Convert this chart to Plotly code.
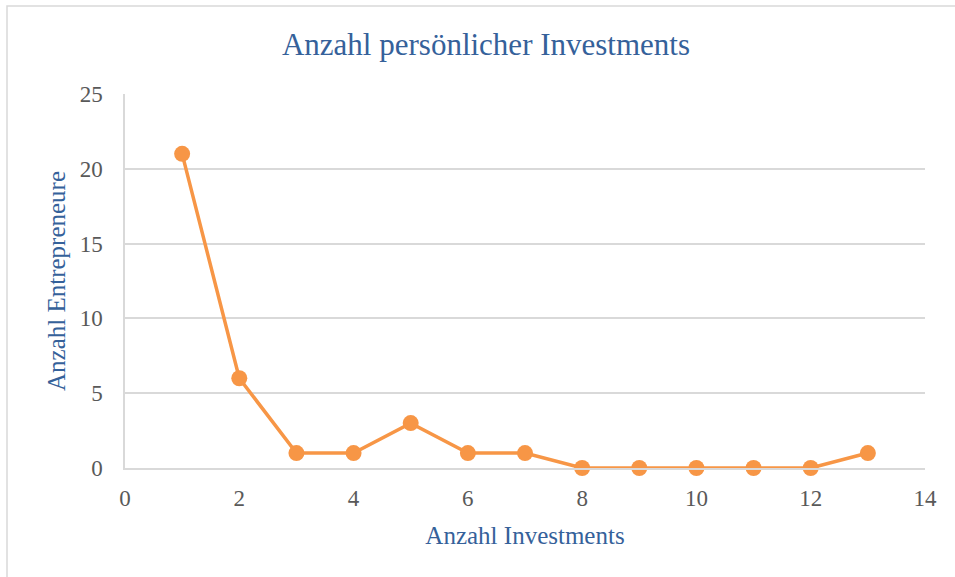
import plotly.graph_objects as go

investments = [1, 2, 3, 4, 5, 6, 7, 8, 9, 10, 11, 12, 13]
entrepreneurs = [21, 6, 1, 1, 3, 1, 1, 0, 0, 0, 0, 0, 1]
x_ticks = [0, 2, 4, 6, 8, 10, 12, 14]
y_ticks = [0, 5, 10, 15, 20, 25]

title_text = "Anzahl persönlicher Investments"
x_title = "Anzahl Investments"
y_title = "Anzahl Entrepreneure"

FONT = "Liberation Serif"
BLUE = "#35619A"
GRAY_TXT = "#595959"
GRID = "#D9D9D9"
ORANGE = "#F79646"

fig = go.Figure()
fig.add_trace(go.Scatter(
    x=investments, y=entrepreneurs, mode="lines+markers",
    line=dict(color=ORANGE, width=3.5),
    marker=dict(color=ORANGE, size=16),
    cliponaxis=False, showlegend=False, hoverinfo="skip",
))

fig.update_layout(
    width=955, height=577,
    margin=dict(l=125, r=30, t=94, b=109),
    paper_bgcolor="white", plot_bgcolor="white",
    title=dict(text=title_text, x=(486) / 955, xanchor="center",
               y=1 - 44 / 577, yanchor="middle",
               font=dict(family=FONT, size=31, color=BLUE)),
    xaxis=dict(range=[0, 14], tickvals=x_ticks, showgrid=False,
               showline=True, linecolor=GRID, linewidth=1.5,
               zeroline=False, ticks="", ticklabelstandoff=9,
               tickfont=dict(family=FONT, size=23, color=GRAY_TXT),
               title=dict(text=x_title, standoff=16,
                          font=dict(family=FONT, size=25, color=BLUE))),
    yaxis=dict(range=[0, 25], tickvals=y_ticks, showgrid=True,
               gridcolor=GRID, gridwidth=1.5,
               showline=True, linecolor=GRID, linewidth=1.5,
               zeroline=False, ticks="", ticklabelstandoff=16,
               tickfont=dict(family=FONT, size=23, color=GRAY_TXT),
               title=dict(text=y_title, standoff=7,
                          font=dict(family=FONT, size=25, color=BLUE))),
)

# chart frame
fig.add_shape(type="rect", xref="paper", yref="paper",
              x0=(7 - 125) / 800, x1=(965 - 125) / 800,
              y0=(468 - 590) / 374, y1=(468 - 6) / 374,
              line=dict(color=GRID, width=1.5), fillcolor="rgba(0,0,0,0)",
              layer="below")

fig.write_html("out.html", config={"displayModeBar": False},
               post_script="document.body.style.margin='0';document.body.style.overflow='hidden';")
